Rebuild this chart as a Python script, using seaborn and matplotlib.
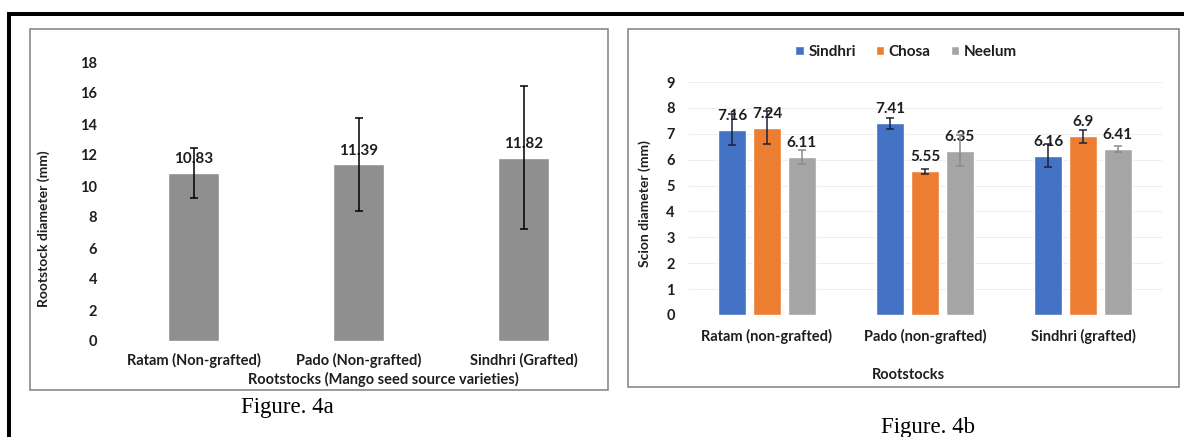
import numpy as np
import pandas as pd
import matplotlib
matplotlib.use("Agg")
import matplotlib.pyplot as plt
from matplotlib.patches import Rectangle
import seaborn as sns

# ---------------- data: Figure 4a ----------------
rootstocks_a = ["Ratam (Non-grafted)", "Pado (Non-grafted)", "Sindhri (Grafted)"]
rootstock_diam = [10.83, 11.39, 11.82]
rootstock_err = [1.63, 3.00, 4.61]
yticks_a = [0, 2, 4, 6, 8, 10, 12, 14, 16, 18]

# ---------------- data: Figure 4b ----------------
rootstocks_b = ["Ratam (non-grafted)", "Pado (non-grafted)", "Sindhri (grafted)"]
scions = ["Sindhri", "Chosa", "Neelum"]
scion_sindhri = [7.16, 7.41, 6.16]
scion_chosa = [7.24, 5.55, 6.9]
scion_neelum = [6.11, 6.35, 6.41]
err_sindhri = [0.60, 0.21, 0.44]
err_chosa = [0.65, 0.10, 0.25]
err_neelum = [0.27, 0.61, 0.13]
yticks_b = [0, 1, 2, 3, 4, 5, 6, 7, 8, 9]

sns.set_theme(style="white")
plt.rcParams['font.family'] = ['Lato', 'DejaVu Sans']

TXT = '#1e1e1e'
FS = 10.5
W, H = 1184, 437
fig = plt.figure(figsize=(W / 100, H / 100), dpi=100)
fig.patch.set_facecolor('white')


def fx(px):
    return px / W


def fy(py):
    return 1 - py / H


# outer black border (top and left)
fig.patches.append(Rectangle((fx(7), 0), fx(4), fy(12), transform=fig.transFigure,
                             facecolor='black', edgecolor='none', zorder=0))
fig.patches.append(Rectangle((fx(7), fy(16)), 1 - fx(7), 4 / H, transform=fig.transFigure,
                             facecolor='black', edgecolor='none', zorder=0))
# panel frames
fig.patches.append(Rectangle((fx(30), fy(390)), fx(578), (390 - 29) / H, transform=fig.transFigure,
                             fill=False, edgecolor='#808080', lw=1.1, zorder=0))
fig.patches.append(Rectangle((fx(628), fy(387)), fx(551), (387 - 29) / H, transform=fig.transFigure,
                             fill=False, edgecolor='#808080', lw=1.1, zorder=0))

# ================= Figure 4a =================
ax1 = fig.add_axes([fx(111), fy(341), fx(495), 279 / H])
ax1.set_facecolor('none')
sns.barplot(x=rootstocks_a, y=rootstock_diam, color='#8f8f8f', saturation=1,
            width=0.315, errorbar=None, ax=ax1)
xs1 = [p.get_x() + p.get_width() / 2 for p in ax1.patches]
ax1.errorbar(xs1, rootstock_diam, yerr=rootstock_err, fmt='none', ecolor='black',
             elinewidth=1.1, capsize=3.2, capthick=1.1, zorder=4)
for x, v in zip(xs1, rootstock_diam):
    ax1.annotate(f"{v:g}", (x, v), xytext=(0, 10), textcoords='offset points',
                 ha='center', va='center', fontsize=FS + 0.5, fontweight='bold', color=TXT, zorder=3)
ax1.set_ylim(0, 18)
ax1.set_xlim(-0.5, 2.5)
ax1.set_yticks(yticks_a)
ax1.tick_params(axis='both', length=0, labelsize=FS, labelcolor=TXT)
ax1.tick_params(axis='y', pad=10)
ax1.tick_params(axis='x', pad=8.5)
for lbl in ax1.get_xticklabels() + ax1.get_yticklabels():
    lbl.set_fontweight('bold')
sns.despine(ax=ax1, left=True, bottom=True)
ax1.set_ylabel("Rootstock diameter (mm)", fontsize=10, fontweight='bold', color=TXT)
ax1.yaxis.set_label_coords((44 - 111) / 495, (341 - 229) / 279)
ax1.yaxis.label.set_va('center')
ax1.set_xlabel("Rootstocks (Mango seed source varieties)", fontsize=FS, fontweight='bold', color=TXT)
ax1.xaxis.set_label_coords((383 - 111) / 495, (341 - 379) / 279)
ax1.xaxis.label.set_va('center')

# ================= Figure 4b =================
df = pd.DataFrame({
    "Rootstock": rootstocks_b * 3,
    "Scion": np.repeat(scions, len(rootstocks_b)),
    "Diameter": scion_sindhri + scion_chosa + scion_neelum,
})
errs_b = [err_sindhri, err_chosa, err_neelum]
vals_b = [scion_sindhri, scion_chosa, scion_neelum]
palette = ["#4472C4", "#ED7D31", "#A5A5A5"]
ecolors = ["#1c2238", "#1c2238", "#8a8a8a"]

ax2 = fig.add_axes([fx(688), fy(315), fx(474), 233 / H])
ax2.set_facecolor('none')
sns.barplot(data=df, x="Rootstock", y="Diameter", hue="Scion", order=rootstocks_b,
            hue_order=scions, palette=palette, saturation=1, width=0.663, gap=0.21,
            errorbar=None, ax=ax2)
for cont, vals, errs, ec in zip(ax2.containers, vals_b, errs_b, ecolors):
    xs = [p.get_x() + p.get_width() / 2 for p in cont]
    ax2.errorbar(xs, vals, yerr=errs, fmt='none', ecolor=ec, elinewidth=1.1,
                 capsize=3.2, capthick=1.1, zorder=4)
    for x, v in zip(xs, vals):
        ax2.annotate(f"{v:g}", (x, v), xytext=(0, 10), textcoords='offset points',
                     ha='center', va='center', fontsize=FS + 0.5, fontweight='bold', color=TXT, zorder=3)
ax2.set_ylim(0, 9)
ax2.set_xlim(-0.5, 2.5)
ax2.set_yticks(yticks_b)
ax2.yaxis.grid(True, color='#efefef', lw=0.8)
ax2.set_axisbelow(True)
ax2.tick_params(axis='both', length=0, labelsize=FS, labelcolor=TXT)
ax2.tick_params(axis='y', pad=9.5)
ax2.tick_params(axis='x', pad=10)
for lbl in ax2.get_xticklabels() + ax2.get_yticklabels():
    lbl.set_fontweight('bold')
sns.despine(ax=ax2, left=True, bottom=True)
ax2.set_ylabel("Scion diameter (mm)", fontsize=10, fontweight='bold', color=TXT)
ax2.yaxis.set_label_coords((645 - 688) / 474, (315 - 204) / 233)
ax2.yaxis.label.set_va('center')
ax2.set_xlabel("Rootstocks", fontsize=FS, fontweight='bold', color=TXT)
ax2.xaxis.set_label_coords((908 - 688) / 474, (315 - 375) / 233)
ax2.xaxis.label.set_va('center')

leg = ax2.get_legend()
handles = leg.legend_handles
labels = [t.get_text() for t in leg.get_texts()]
leg.remove()
ax2.legend(handles, labels, loc='center', bbox_to_anchor=(fx(906), fy(52)),
           bbox_transform=fig.transFigure, ncol=3, frameon=False,
           handlelength=0.55, handleheight=0.55, handletextpad=0.3, columnspacing=1.3,
           prop={'weight': 'bold', 'size': FS + 0.5}, labelcolor=TXT)

# captions
fig.text(fx(287), fy(408), "Figure. 4a", family=['Liberation Serif', 'DejaVu Serif'],
         fontsize=16.5, ha='center', va='center', color='black')
fig.text(fx(928), fy(427), "Figure. 4b", family=['Liberation Serif', 'DejaVu Serif'],
         fontsize=16.5, ha='center', va='center', color='black')

fig.savefig("out.png", dpi=100)
